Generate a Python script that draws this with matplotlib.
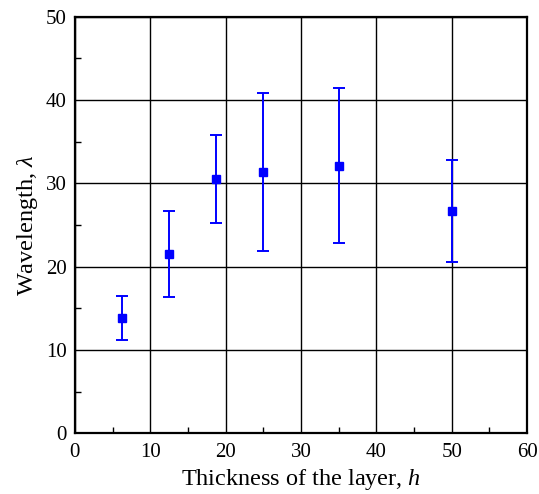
"""Wavelength vs layer thickness with error bars."""

import matplotlib
matplotlib.use("Agg")
import matplotlib.pyplot as plt
from matplotlib.ticker import MultipleLocator

# Data
thickness = [6.25, 12.5, 18.75, 25.0, 35.0, 50.0]
wavelength = [13.9, 21.5, 30.5, 31.3, 32.1, 26.7]
err_upper = [16.5, 26.7, 35.8, 40.8, 41.4, 32.8]
err_lower = [11.2, 16.4, 25.3, 21.9, 22.8, 20.6]

plt.rcParams["font.family"] = ["Liberation Serif", "DejaVu Serif"]
plt.rcParams["mathtext.fontset"] = "custom"
plt.rcParams["mathtext.it"] = "Liberation Serif:italic"
plt.rcParams["mathtext.rm"] = "Liberation Serif"

fig = plt.figure(figsize=(5.39, 4.94), dpi=100)
ax = fig.add_axes([0.139, 0.1225, 0.839, 0.844])

yerr = [[w - lo for w, lo in zip(wavelength, err_lower)],
        [hi - w for w, hi in zip(wavelength, err_upper)]]

ax.errorbar(thickness, wavelength, yerr=yerr, fmt="s", color="#0000ff",
            ecolor="#0000ff", markersize=6, elinewidth=1.4, capsize=4,
            capthick=1.4, zorder=3)

ax.set_xlim(0, 60)
ax.set_ylim(0, 50)
ax.xaxis.set_major_locator(MultipleLocator(10))
ax.yaxis.set_major_locator(MultipleLocator(10))
ax.xaxis.set_minor_locator(MultipleLocator(5))
ax.yaxis.set_minor_locator(MultipleLocator(5))
ax.tick_params(which="both", direction="in", labelsize=15)
ax.tick_params(axis="x", which="major", length=0, pad=6.5)
ax.tick_params(axis="y", which="major", length=0, pad=6)
ax.tick_params(which="minor", length=4, width=1)

ax.grid(True, which="major", color="black", linewidth=1.0)
for s in ax.spines.values():
    s.set_linewidth(1.6)

ax.set_xlabel("Thickness of the layer, $\\mathit{h}$", fontsize=17.5, labelpad=4)
ax.set_ylabel("Wavelength, $\\mathit{\\lambda}$", fontsize=17.5, labelpad=4)

fig.savefig("out.png", dpi=100)
